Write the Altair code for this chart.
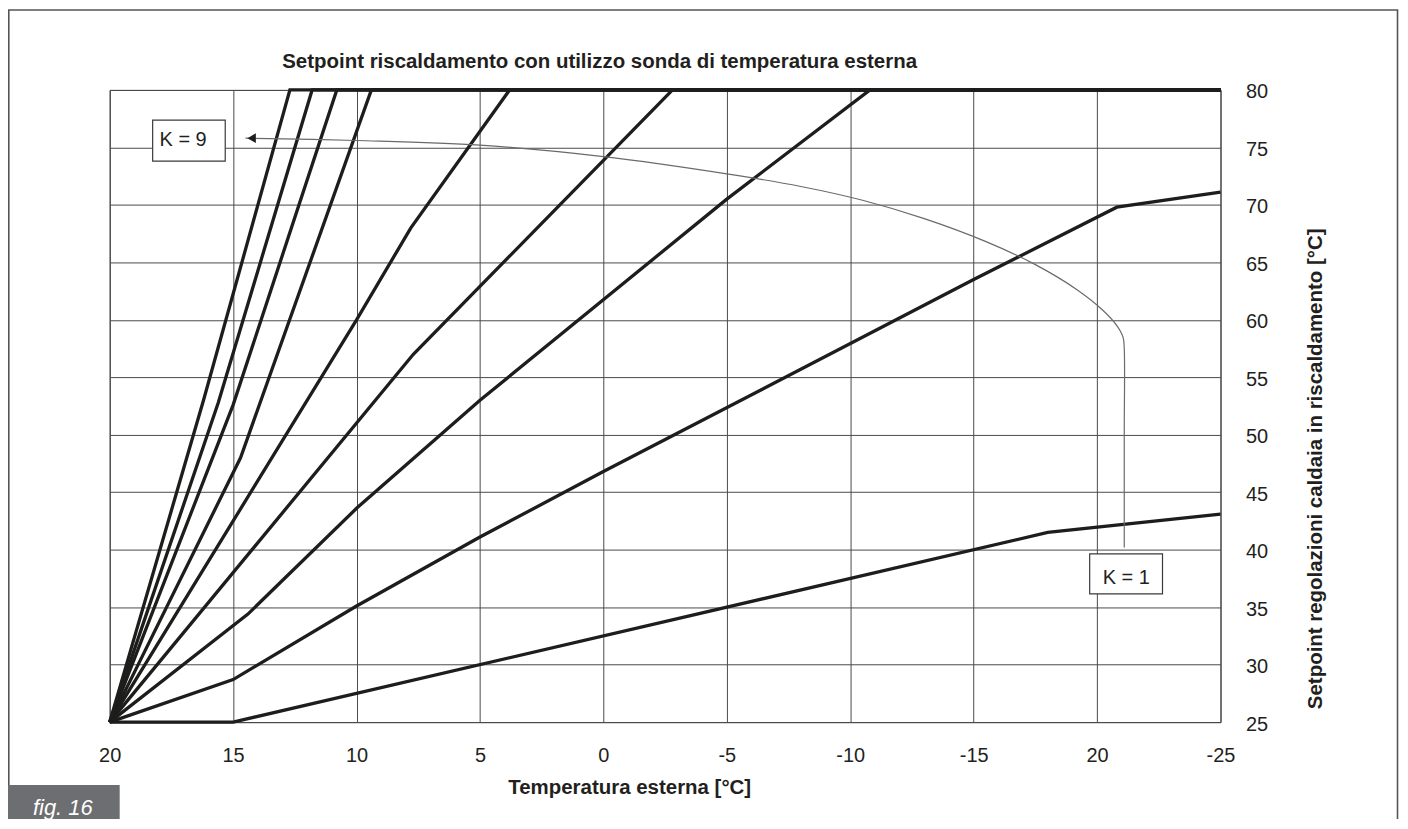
import altair as alt
import pandas as pd

FONT = "Liberation Sans"
INK = "#1d1d1b"

# ---------------- data ----------------
X_TICKS = [20, 15, 10, 5, 0, -5, -10, -15, -20, -25]
X_TICK_LABELS = ["20", "15", "10", "5", "0", "-5", "-10", "-15", "20", "-25"]
Y_TICKS = [25, 30, 35, 40, 45, 50, 55, 60, 65, 70, 75, 80]

K_NAMES = ["K1", "K2", "K3", "K4", "K5", "K6", "K7", "K8", "K9"]
K1_T = [20, 15, -18, -25]
K1_V = [25, 25, 41.5, 43.1]
K2_T = [20, 15, 10, 5, 0, -15, -20.8, -25]
K2_V = [25, 28.7, 35.1, 41.1, 46.8, 63.5, 69.8, 71.1]
K3_T = [20, 14.4, 10, 5, -5, -10.8, -25]
K3_V = [25, 34.4, 43.6, 53, 70.5, 80, 80]
K4_T = [20, 7.7, -2.8, -25]
K4_V = [25, 57, 80, 80]
K5_T = [20, 10, 7.8, 3.8, -25]
K5_V = [25, 60, 68, 80, 80]
K6_T = [20, 14.7, 9.4, -25]
K6_V = [25, 48, 80, 80]
K7_T = [20, 15.0, 10.8, -25]
K7_V = [25, 52.6, 80, 80]
K8_T = [20, 15.6, 11.8, -25]
K8_V = [25, 52.8, 80, 80]
K9_T = [20, 16.2, 12.7, -25]
K9_V = [25, 53.0, 80, 80]

# leader curve from the "K = 1" box to the "K = 9" box
LEAD_T = [14.5, 10, 5, 0, -5, -8, -10.5, -13, -15.5, -17.5, -19.2, -20.2, -20.8, -21.05, -21.1, -21.1, -21.1]
LEAD_V = [75.8, 75.6, 75.2, 74.2, 72.7, 71.6, 70.4, 68.8, 66.8, 64.8, 62.6, 60.9, 59.5, 58.5, 57.5, 50.0, 40.2]
ARROW_T = [14.25]
ARROW_V = [75.8]

BOX_LABELS = ["K = 9", "K = 1"]
BOX_T1 = [18.26, -19.70]
BOX_T2 = [15.32, -22.65]
BOX_V1 = [77.37, 39.63]
BOX_V2 = [73.81, 36.16]
BOX_TEXT_T = [17.98, -20.23]
BOX_TEXT_V = [75.08, 37.03]

TITLE = "Setpoint riscaldamento con utilizzo sonda di temperatura esterna"
X_TITLE = "Temperatura esterna [°C]"
Y_TITLE = "Setpoint regolazioni caldaia in riscaldamento [°C]"
FIG_LABEL = "fig. 16"

# ---------------- tables ----------------
series = [(K1_T, K1_V), (K2_T, K2_V), (K3_T, K3_V), (K4_T, K4_V), (K5_T, K5_V),
          (K6_T, K6_V), (K7_T, K7_V), (K8_T, K8_V), (K9_T, K9_V)]
rows = []
for name, (ts, vs) in zip(K_NAMES, series):
    for i, (t, v) in enumerate(zip(ts, vs)):
        rows.append({"K": name, "T": t, "V": v, "i": i})
lines_df = pd.DataFrame(rows)

lead_df = pd.DataFrame({"T": LEAD_T, "V": LEAD_V, "i": list(range(len(LEAD_T)))})
arrow_df = pd.DataFrame({"T": ARROW_T, "V": ARROW_V})
box_df = pd.DataFrame({"label": BOX_LABELS, "t1": BOX_T1, "t2": BOX_T2,
                       "v1": BOX_V1, "v2": BOX_V2, "tt": BOX_TEXT_T, "tv": BOX_TEXT_V})

label_expr = ""
for v, l in zip(X_TICKS, X_TICK_LABELS):
    label_expr += f"datum.value === {v} ? '{l}' : "
label_expr += "datum.label"

xscale = alt.Scale(domain=[X_TICKS[-1], X_TICKS[0]], reverse=True, nice=False, zero=False)
yscale = alt.Scale(domain=[Y_TICKS[0], Y_TICKS[-1]], nice=False, zero=False)

x_axis = alt.Axis(values=X_TICKS, labelExpr=label_expr, grid=True, gridColor="#4a4a4a",
                  gridWidth=1, ticks=False, domain=False, labelFont=FONT, labelFontSize=20,
                  labelColor="#231f20", labelPadding=24, labelFlush=False, labelOverlap=False,
                  title=X_TITLE, titleFont=FONT, titleFontSize=20.5, titleFontWeight="bold",
                  titleColor="#231f20", titleX=521, titleY=72, titleBaseline="alphabetic",
                  titleAnchor="middle", titleAlign="center")
y_axis = alt.Axis(orient="right", values=Y_TICKS, grid=True, gridColor="#4a4a4a", gridWidth=1,
                  ticks=False, domain=False, labelFont=FONT, labelFontSize=20,
                  labelColor="#231f20", labelPadding=25, labelFlush=False, labelOverlap=False,
                  labelBaseline="middle", labelOffset=2,
                  title=Y_TITLE, titleFont=FONT, titleFontSize=20.5, titleFontWeight="bold",
                  titleColor="#231f20", titleAngle=270, titleX=95, titleY=379.5,
                  titleAlign="center", titleBaseline="middle")

lines = alt.Chart(lines_df).mark_line(color=INK, strokeWidth=3.3, strokeCap="butt").encode(
    x=alt.X("T:Q", scale=xscale, axis=x_axis),
    y=alt.Y("V:Q", scale=yscale, axis=y_axis),
    detail="K:N",
    order="i:Q",
)

lead = alt.Chart(lead_df).mark_line(color="#6a6a6a", strokeWidth=1.2,
                                    interpolate="catmull-rom").encode(
    x=alt.X("T:Q", scale=xscale),
    y=alt.Y("V:Q", scale=yscale),
    order="i:Q",
)

arrow = alt.Chart(arrow_df).mark_point(shape="triangle-left", filled=True, color="#1d1d1b",
                                       size=95, opacity=1).encode(
    x=alt.X("T:Q", scale=xscale),
    y=alt.Y("V:Q", scale=yscale),
)

boxes = alt.Chart(box_df).mark_rect(fill="white", stroke="#3a3a3a", strokeWidth=1.2).encode(
    x=alt.X("t1:Q", scale=xscale), x2="t2:Q",
    y=alt.Y("v1:Q", scale=yscale), y2="v2:Q",
)
box_text = alt.Chart(box_df).mark_text(font=FONT, fontSize=20, color="#231f20", align="left",
                                       baseline="alphabetic").encode(
    x=alt.X("tt:Q", scale=xscale),
    y=alt.Y("tv:Q", scale=yscale),
    text="label:N",
)

one = alt.Data(values=[{"a": 1}])

title = alt.Chart(one).mark_text(text=TITLE, font=FONT, fontSize=20.5, fontWeight="bold",
                                 color="#231f20", align="left", baseline="alphabetic").encode(
    x=alt.value(173), y=alt.value(-21.5))

frame = alt.Chart(one).mark_rect(fillOpacity=0, stroke="#555555", strokeWidth=1.6).encode(
    x=alt.value(-101.2), x2=alt.value(1291.5), y=alt.value(-80.2), y2=alt.value(760))

fig_box = alt.Chart(one).mark_rect(color="#6d6e71").encode(
    x=alt.value(-102), x2=alt.value(10), y=alt.value(697), y2=alt.value(760))
fig_text = alt.Chart(one).mark_text(text=FIG_LABEL, font=FONT, fontSize=22, fontStyle="italic",
                                    color="white", align="left", baseline="alphabetic").encode(
    x=alt.value(-77), y=alt.value(727))

chart = alt.layer(frame, fig_box, fig_text, title, lines, lead, arrow, boxes, box_text).properties(
    width=1114, height=634,
    autosize=alt.AutoSizeParams(type="none"),
    padding={"left": 102, "top": 81, "right": 180, "bottom": 96},
    background="white",
).configure_view(stroke="#333333", strokeWidth=1)

chart.save("out.html", embed_options={"renderer": "svg", "actions": False})
